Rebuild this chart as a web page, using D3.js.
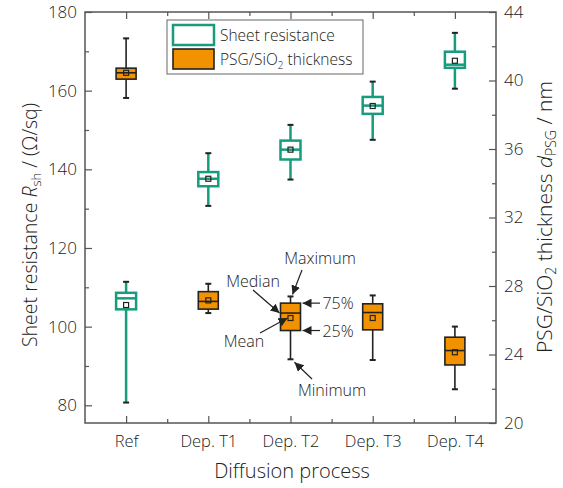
<!DOCTYPE html>
<html>
<head>
    <title>Sheet resistance and PSG thickness</title>
    <script src="https://d3js.org/d3.v7.min.js"></script>
    <style>
        body { margin: 0; background: #fff; }
        text { font-family: "Open Sans", "Noto Sans", sans-serif; font-weight: 300; fill: #222; }
    </style>
</head>
<body>
<svg width="563" height="488"></svg>
<script>
    const categories = ["Ref", "Dep. T1", "Dep. T2", "Dep. T3", "Dep. T4"];

    // sheet resistance, Ohm/sq (left axis)
    const rshMin    = [80.7, 130.7, 137.4, 147.5, 160.5];
    const rshQ1     = [104.4, 135.7, 142.5, 154.1, 165.8];
    const rshMedian = [107.2, 137.6, 145.0, 156.2, 166.6];
    const rshQ3     = [108.6, 139.3, 147.3, 158.4, 169.9];
    const rshMax    = [111.4, 144.1, 151.3, 162.3, 174.7];
    const rshMean   = [105.5, 137.6, 145.0, 156.1, 167.6];

    // PSG/SiO2 thickness, nm (right axis)
    const psgMin    = [38.98, 26.42, 23.72, 23.68, 21.97];
    const psgQ1     = [40.08, 26.65, 25.40, 25.44, 23.39];
    const psgMedian = [40.45, 27.10, 26.42, 26.45, 24.23];
    const psgQ3     = [40.72, 27.67, 27.00, 26.96, 25.01];
    const psgMax    = [42.46, 28.13, 27.39, 27.45, 25.63];
    const psgMean   = [40.45, 27.16, 26.13, 26.13, 24.13];

    const leftTicks = [80, 100, 120, 140, 160, 180];
    const rightTicks = [20, 24, 28, 32, 36, 40, 44];

    const green = "#179c7d";
    const orange = "#f39200";
    const frame = "#555";

    const margin = {left: 85, right: 67, top: 12, bottom: 65};
    const width = 563, height = 488;
    const x0 = margin.left, x1 = width - margin.right;
    const y0 = margin.top, y1 = height - margin.bottom;

    const svg = d3.select("svg");

    const x = d3.scaleLinear().domain([0.5, 5.5]).range([x0, x1]);
    const yL = d3.scaleLinear().domain([75.5, 180]).range([y1, y0]);
    const yR = d3.scaleLinear().domain([20, 44]).range([y1, y0]);

    const idx = d3.range(categories.length);

    // axes with inward ticks
    const tickStyle = g => {
        g.select(".domain").remove();
        g.selectAll("line").attr("stroke", frame).attr("stroke-width", 1.2);
        g.selectAll("text").style("font-size", "16px").attr("fill", "#222");
    };

    // minor ticks first
    svg.append("g").attr("transform", `translate(${x0},0)`)
        .call(d3.axisRight(yL).tickValues(d3.range(90, 180, 20)).tickSize(4).tickFormat(""))
        .call(tickStyle);
    svg.append("g").attr("transform", `translate(${x1},0)`)
        .call(d3.axisLeft(yR).tickValues(d3.range(22, 44, 4)).tickSize(4).tickFormat(""))
        .call(tickStyle);
    const minorX = d3.range(1.5, 5.5, 1);
    svg.append("g").attr("transform", `translate(0,${y1})`)
        .call(d3.axisTop(x).tickValues(minorX).tickSize(4).tickFormat(""))
        .call(tickStyle);
    svg.append("g").attr("transform", `translate(0,${y0})`)
        .call(d3.axisBottom(x).tickValues(minorX).tickSize(4).tickFormat(""))
        .call(tickStyle);

    // major ticks
    const left = svg.append("g").attr("transform", `translate(${x0},0)`)
        .call(d3.axisRight(yL).tickValues(leftTicks).tickSize(7))
        .call(tickStyle);
    left.selectAll("text").attr("x", -8).attr("text-anchor", "end").style("font-size", "17px");

    const right = svg.append("g").attr("transform", `translate(${x1},0)`)
        .call(d3.axisLeft(yR).tickValues(rightTicks).tickSize(7))
        .call(tickStyle);
    right.selectAll("text").attr("x", 8).attr("text-anchor", "start").style("font-size", "17px");

    const bottom = svg.append("g").attr("transform", `translate(0,${y1})`)
        .call(d3.axisTop(x).tickValues(idx.map(i => i + 1)).tickSize(7)
            .tickFormat((d, i) => categories[i]))
        .call(tickStyle);
    bottom.selectAll("text").attr("y", 24).attr("dy", 0).style("font-size", "16.5px");

    svg.append("g").attr("transform", `translate(0,${y0})`)
        .call(d3.axisBottom(x).tickValues(idx.map(i => i + 1)).tickSize(7).tickFormat(""))
        .call(tickStyle);

    // frame
    svg.append("rect")
        .attr("x", x0).attr("y", y0)
        .attr("width", x1 - x0).attr("height", y1 - y0)
        .attr("fill", "none").attr("stroke", frame).attr("stroke-width", 1.5);

    // box plots
    const boxW = 20, capW = 6;
    function drawBoxes(y, mins, q1, med, q3, maxs, means, fill, stroke, sw) {
        const g = svg.append("g");
        const b = g.selectAll("g").data(idx).enter().append("g");
        b.append("line")
            .attr("x1", i => x(i + 1)).attr("x2", i => x(i + 1))
            .attr("y1", i => y(maxs[i])).attr("y2", i => y(q3[i]))
            .attr("stroke", stroke).attr("stroke-width", sw);
        b.append("line")
            .attr("x1", i => x(i + 1)).attr("x2", i => x(i + 1))
            .attr("y1", i => y(q1[i])).attr("y2", i => y(mins[i]))
            .attr("stroke", stroke).attr("stroke-width", sw);
        [maxs, mins].forEach(arr => {
            b.append("line")
                .attr("x1", i => x(i + 1) - capW / 2).attr("x2", i => x(i + 1) + capW / 2)
                .attr("y1", i => y(arr[i])).attr("y2", i => y(arr[i]))
                .attr("stroke", "#222").attr("stroke-width", 2);
        });
        b.append("rect")
            .attr("x", i => x(i + 1) - boxW / 2).attr("width", boxW)
            .attr("y", i => y(q3[i])).attr("height", i => y(q1[i]) - y(q3[i]))
            .attr("fill", fill).attr("stroke", stroke).attr("stroke-width", sw);
        b.append("line")
            .attr("x1", i => x(i + 1) - boxW / 2).attr("x2", i => x(i + 1) + boxW / 2)
            .attr("y1", i => y(med[i])).attr("y2", i => y(med[i]))
            .attr("stroke", stroke).attr("stroke-width", sw);
        b.append("rect")
            .attr("x", i => x(i + 1) - 2.5).attr("y", i => y(means[i]) - 2.5)
            .attr("width", 5).attr("height", 5)
            .attr("fill", "none").attr("stroke", "#222").attr("stroke-width", 1.2);
    }
    drawBoxes(yL, rshMin, rshQ1, rshMedian, rshQ3, rshMax, rshMean, "#fff", green, 2.5);
    drawBoxes(yR, psgMin, psgQ1, psgMedian, psgQ3, psgMax, psgMean, orange, "#222", 1.6);

    // legend
    const lg = svg.append("g").attr("transform", "translate(167,20)");
    lg.append("rect").attr("width", 196).attr("height", 54)
        .attr("fill", "#fff").attr("stroke", "#666").attr("stroke-width", 1);
    lg.append("rect").attr("x", 6).attr("y", 5).attr("width", 41).attr("height", 20)
        .attr("fill", "#fff").attr("stroke", green).attr("stroke-width", 2.5);
    lg.append("rect").attr("x", 6).attr("y", 29).attr("width", 41).attr("height", 20)
        .attr("fill", orange).attr("stroke", "#222").attr("stroke-width", 1.6);
    lg.append("text").attr("x", 53).attr("y", 21).style("font-size", "15.5px").text("Sheet resistance");
    const t2 = lg.append("text").attr("x", 53).attr("y", 45).style("font-size", "15.5px");
    t2.append("tspan").text("PSG/SiO");
    t2.append("tspan").attr("dy", 4).style("font-size", "10px").text("2");
    t2.append("tspan").attr("dy", -4).text(" thickness");

    // annotations on the Dep. T2 orange box
    svg.append("defs").append("marker")
        .attr("id", "arr").attr("viewBox", "0 0 10 10")
        .attr("refX", 10).attr("refY", 5)
        .attr("markerWidth", 9).attr("markerHeight", 9)
        .attr("markerUnits", "userSpaceOnUse")
        .attr("orient", "auto")
        .append("path").attr("d", "M0,0 L10,5 L0,10 z").attr("fill", "#222");

    const bx = x(3);
    const notes = [
        {label: "Maximum", tx: 320, ty: 264, from: [302, 270], to: [bx + 2, yR(psgMax[2]) - 2]},
        {label: "Median", tx: 253, ty: 287, from: [253, 290], to: [bx - 11, yR(psgMedian[2])]},
        {label: "75%", tx: 338, ty: 309, from: [320, yR(psgQ3[2])], to: [bx + 12, yR(psgQ3[2])]},
        {label: "25%", tx: 338, ty: 337, from: [320, yR(psgQ1[2])], to: [bx + 12, yR(psgQ1[2])]},
        {label: "Mean", tx: 244, ty: 347, from: [260, 333], to: [bx - 3, yR(psgMean[2])]},
        {label: "Minimum", tx: 332, ty: 396, from: [312, 379], to: [bx + 4, yR(psgMin[2]) + 3]}
    ];
    notes.forEach(n => {
        svg.append("line")
            .attr("x1", n.from[0]).attr("y1", n.from[1])
            .attr("x2", n.to[0]).attr("y2", n.to[1])
            .attr("stroke", "#222").attr("stroke-width", 1.2)
            .attr("marker-end", "url(#arr)");
        svg.append("text").attr("x", n.tx).attr("y", n.ty)
            .attr("text-anchor", "middle").style("font-size", "16px").text(n.label);
    });

    // axis titles
    svg.append("text")
        .attr("x", 292).attr("y", 478)
        .attr("text-anchor", "middle").style("font-size", "20px")
        .text("Diffusion process");

    const lt = svg.append("text")
        .attr("transform", "translate(37,225) rotate(-90)")
        .attr("text-anchor", "middle").style("font-size", "19.5px");
    lt.append("tspan").text("Sheet resistance ");
    lt.append("tspan").style("font-style", "italic").text("R");
    lt.append("tspan").attr("dy", 4).style("font-size", "13px").text("sh");
    lt.append("tspan").attr("dy", -4).text(" / (Ω/sq)");

    const rt = svg.append("text")
        .attr("transform", "translate(552,217) rotate(-90)")
        .attr("text-anchor", "middle").style("font-size", "21px");
    rt.append("tspan").text("PSG/SiO");
    rt.append("tspan").attr("dy", 4).style("font-size", "14px").text("2");
    rt.append("tspan").attr("dy", -4).text(" thickness ");
    rt.append("tspan").style("font-style", "italic").text("d");
    rt.append("tspan").attr("dy", 4).style("font-size", "14px").text("PSG");
    rt.append("tspan").attr("dy", -4).text(" / nm");
</script>
</body>
</html>
